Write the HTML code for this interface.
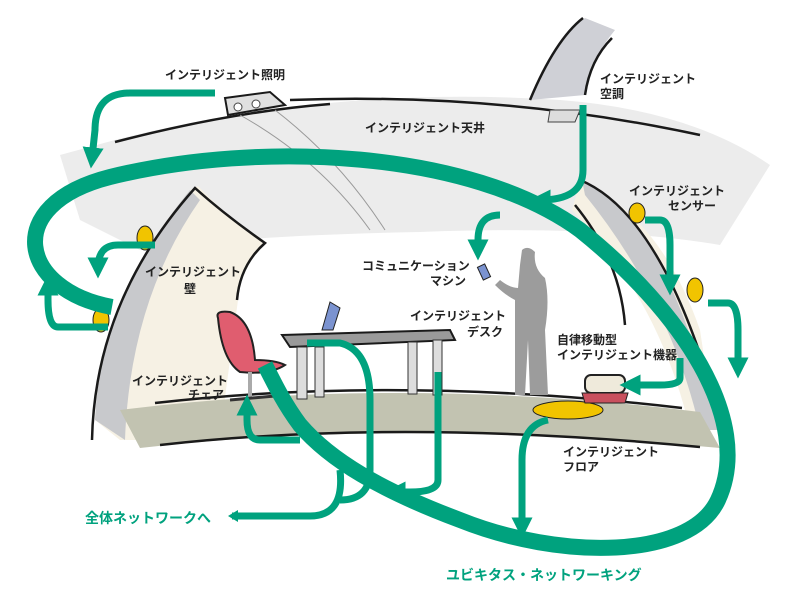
<!DOCTYPE html>
<html><head><meta charset="utf-8"><style>
html,body{margin:0;padding:0;background:#fff}
svg text{font-family:"Liberation Sans","Noto Sans CJK JP",sans-serif;font-weight:bold;fill:#222}
</style></head><body>
<svg width="800" height="600" viewBox="0 0 800 600" xmlns="http://www.w3.org/2000/svg">
<defs>
<marker id="ah" viewBox="0 0 10 10" refX="5" refY="5" markerWidth="3" markerHeight="3" orient="auto"><path d="M0,0 L10,5 L0,10 z" fill="#00a27e"/></marker>
</defs>
<path d="M60,155 L115,140 Q330,85 560,100 Q690,110 770,165 L720,245 Q600,225 420,232 Q250,235 140,250 L80,220 Z" fill="#ececec"/>
<path d="M115,142 Q230,112 330,104" stroke="#1a1a1a" stroke-width="2.5" fill="none"/>
<path d="M290,100 Q500,92 700,135" stroke="#1a1a1a" stroke-width="2.5" fill="none"/>
<path d="M225,98 L270,92 L285,105 L228,115 Z" fill="#e0e0e0" stroke="#1a1a1a" stroke-width="2"/>
<circle cx="238" cy="107" r="4" fill="#fff" stroke="#444"/><circle cx="256" cy="104" r="4" fill="#fff" stroke="#444"/>
<path d="M240,115 Q320,160 370,230 M275,110 Q340,160 385,230" stroke="#999" fill="none"/>
<path d="M530,100 Q555,40 585,18 L615,30 Q590,60 585,95 Z" fill="#cfd0d6"/>
<path d="M530,100 Q555,40 583,18 M585,95 Q590,60 612,38" stroke="#1a1a1a" stroke-width="2.5" fill="none"/>
<path d="M550,110 L580,110 L575,122 L548,122 Z" fill="#ddd" stroke="#444"/>
<path d="M190,190 L198,186 Q225,215 265,243 Q240,265 238,300 L222,420 L160,440 L120,440 L95,420 Q100,300 190,190 Z" fill="#f6f1e4"/>
<path d="M95,420 Q100,300 190,190 L200,200 Q130,300 125,440 Z" fill="#c8c9cc"/>
<path d="M92,440 Q95,300 195,188 Q225,215 265,243 Q240,265 237,300" stroke="#1a1a1a" stroke-width="2.5" fill="none"/>
<ellipse cx="145" cy="238" rx="8" ry="12" fill="#f1c400" stroke="#222"/>
<ellipse cx="101" cy="320" rx="8" ry="12" fill="#f1c400" stroke="#222"/>
<path d="M580,182 Q660,215 700,330 L715,430 L690,430 Q660,300 572,210 Z" fill="#f6f1e4"/>
<path d="M582,180 Q665,215 718,430 L700,430 Q670,300 585,195 Z" fill="#c8c9cc"/>
<path d="M580,180 Q665,215 720,420" stroke="#1a1a1a" stroke-width="2.5" fill="none"/>
<path d="M575,205 Q620,260 625,325" stroke="#1a1a1a" stroke-width="2.5" fill="none"/>
<ellipse cx="637" cy="213" rx="8" ry="10" fill="#f1c400" stroke="#222"/>
<ellipse cx="695" cy="290" rx="8" ry="12" fill="#f1c400" stroke="#222"/>
<path d="M120,410 Q400,375 700,412 L720,448 Q400,418 140,448 Z" fill="#c2c3b1"/>
<path d="M155,403 Q400,375 682,408" stroke="#1a1a1a" stroke-width="2.5" fill="none"/>
<path d="M160,445 Q400,418 700,447" stroke="#1a1a1a" stroke-width="2.5" fill="none"/>
<ellipse cx="568" cy="410" rx="35" ry="9" fill="#f1c400" stroke="#222"/>
<path d="M282,335 L450,330 L455,340 L290,347 Z" fill="#9a9a9a" stroke="#1a1a1a" stroke-width="2"/>
<rect x="297" y="347" width="10" height="52" fill="#ddd" stroke="#333"/>
<rect x="315" y="347" width="9" height="50" fill="#ddd" stroke="#333"/>
<rect x="408" y="342" width="9" height="52" fill="#ddd" stroke="#333"/>
<rect x="433" y="340" width="9" height="55" fill="#ddd" stroke="#333"/>
<path d="M322,330 L330,302 L340,308 L333,330 Z" fill="#7b93d0" stroke="#222"/>
<path d="M218,318 Q215,310 230,312 Q252,320 255,360 Q275,360 285,365 Q270,375 240,372 Q222,360 218,318 Z" fill="#e05d6f" stroke="#222" stroke-width="2"/>
<rect x="248" y="372" width="4" height="25" fill="#aaa"/>
<path d="M230,400 L275,396" stroke="#333" stroke-width="3"/>
<path d="M522,250 Q528,245 535,252 Q533,268 545,278 Q550,300 545,330 L548,395 L530,395 L528,340 L525,395 L515,395 L515,300 Q505,295 495,285 L500,280 Q510,288 518,288 L520,265 Z" fill="#9c9c9c"/>
<rect x="480" y="265" width="8" height="14" fill="#7b93d0" stroke="#222" transform="rotate(-25 484 272)"/>
<rect x="585" y="375" width="40" height="18" rx="6" fill="#efeadb" stroke="#222" stroke-width="2"/>
<path d="M582,393 L628,393 L625,403 L585,403 Z" fill="#c9505e" stroke="#222"/>
<path d="M112,307 C20,290 0,205 110,177 C260,140 470,150 580,230 C680,310 755,420 718,500 C690,560 560,560 460,520 C380,490 330,460 300,425 C285,405 275,385 265,365" stroke="#00a27e" stroke-width="16" fill="none"/>
<g stroke="#00a27e" stroke-width="7" fill="none" stroke-linecap="butt">
<path d="M215,93 L130,93 Q95,93 95,130 L92,158" marker-end="url(#ah)"/>
<path d="M155,245 L118,245 Q98,245 98,268" marker-end="url(#ah)"/>
<path d="M108,327 L58,327 Q48,327 48,300 L48,285" marker-end="url(#ah)"/>
<path d="M583,105 L583,170 Q583,200 540,200" marker-end="url(#ah)"/>
<path d="M500,215 Q478,215 478,240 L478,250" marker-end="url(#ah)"/>
<path d="M645,220 L660,220 Q670,220 670,245 L670,285" marker-end="url(#ah)"/>
<path d="M708,303 L728,303 Q738,303 738,330 L738,368" marker-end="url(#ah)"/>
<path d="M680,358 L680,378 Q680,385 660,385 L630,385" marker-end="url(#ah)"/>
<path d="M300,440 L260,440 Q247,440 247,420 L247,405" marker-end="url(#ah)"/>
<path d="M438,372 L438,480 Q438,492 410,492 L395,492" marker-end="url(#ah)"/>
<path d="M307,343 L340,343 Q370,350 370,400 L370,470 Q370,500 340,500" />
<path d="M548,420 Q522,425 522,460 L522,528" marker-end="url(#ah)"/>
<path d="M340,470 Q345,516 310,516 L232,516" />
</g>
<path d="M238,510 L228,516 L238,522 Z" fill="#00a27e"/>
<text x="165" y="79" font-size="12">インテリジェント照明</text>
<text x="365" y="132" font-size="12">インテリジェント天井</text>
<text x="600" y="83" font-size="12">インテリジェント</text>
<text x="600" y="98" font-size="12">空調</text>
<text x="629" y="195" font-size="12">インテリジェント</text>
<text x="668" y="210" font-size="12">センサー</text>
<text x="145" y="276" font-size="12">インテリジェント</text>
<text x="184" y="293" font-size="12">壁</text>
<text x="362" y="270" font-size="12">コミュニケーション</text>
<text x="430" y="285" font-size="12">マシン</text>
<text x="410" y="320" font-size="12">インテリジェント</text>
<text x="467" y="336" font-size="12">デスク</text>
<text x="557" y="344" font-size="12">自律移動型</text>
<text x="557" y="359" font-size="12">インテリジェント機器</text>
<text x="132" y="385" font-size="12">インテリジェント</text>
<text x="188" y="399" font-size="12">チェア</text>
<text x="563" y="456" font-size="12">インテリジェント</text>
<text x="563" y="471" font-size="12">フロア</text>
<text x="85" y="523" font-size="14" style="fill:#00a27e">全体ネットワークへ</text>
<text x="446" y="580" font-size="14" style="fill:#00a27e">ユビキタス・ネットワーキング</text>
</svg>
</body></html>
